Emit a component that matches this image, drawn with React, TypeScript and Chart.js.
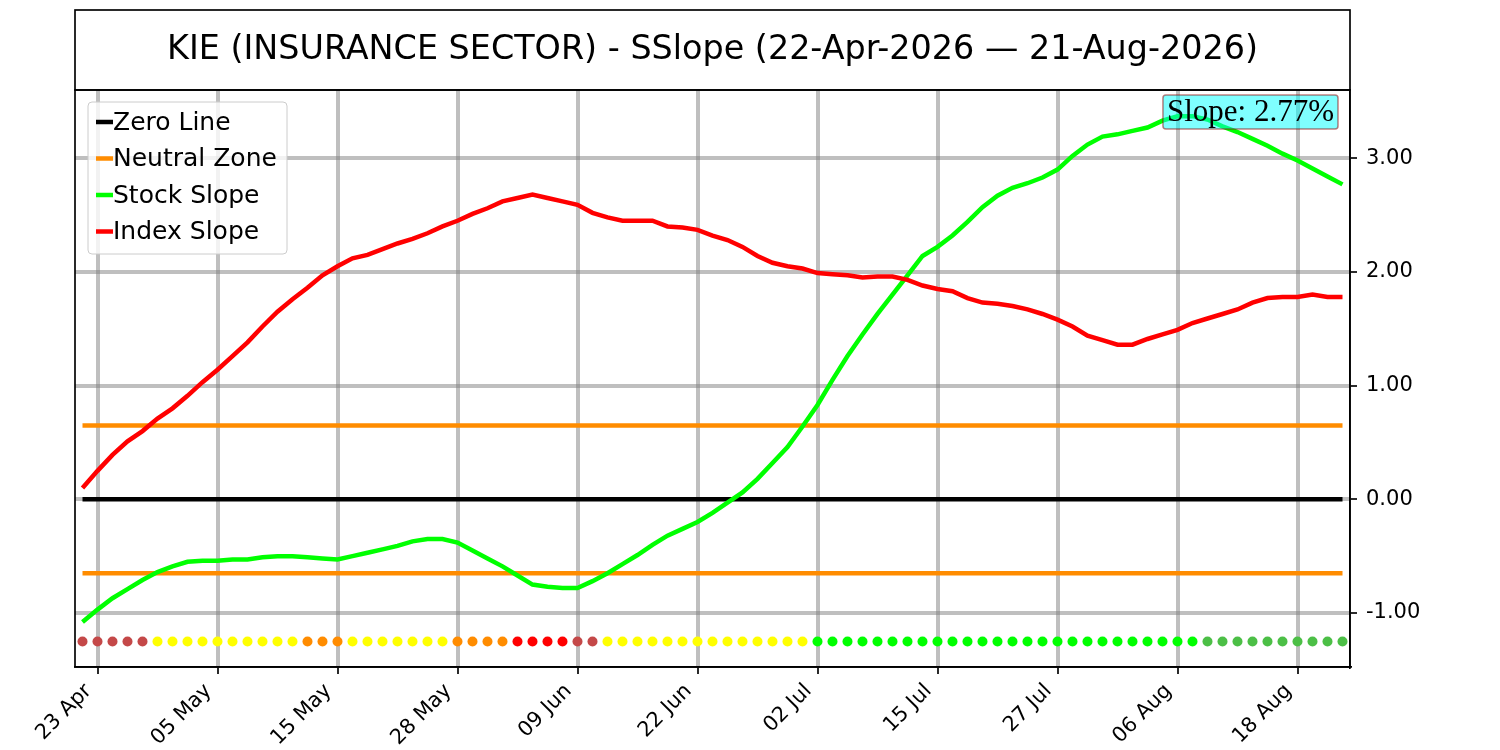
import { Chart, registerables } from 'chart.js'
import { useEffect, useRef } from 'react'

Chart.register(...registerables)

const title = 'KIE (INSURANCE SECTOR) - SSlope (22-Apr-2026 — 21-Aug-2026)'

// торговые дни 22 Apr – 21 Aug 2026
const dates = [
	'22 Apr', '23 Apr', '24 Apr', '27 Apr', '28 Apr', '29 Apr', '30 Apr', '01 May', '04 May', '05 May',
	'06 May', '07 May', '08 May', '11 May', '12 May', '13 May', '14 May', '15 May', '18 May', '19 May',
	'20 May', '21 May', '22 May', '26 May', '27 May', '28 May', '29 May', '01 Jun', '02 Jun', '03 Jun',
	'04 Jun', '05 Jun', '08 Jun', '09 Jun', '10 Jun', '11 Jun', '12 Jun', '15 Jun', '16 Jun', '17 Jun',
	'18 Jun', '22 Jun', '23 Jun', '24 Jun', '25 Jun', '26 Jun', '29 Jun', '30 Jun', '01 Jul', '02 Jul',
	'06 Jul', '07 Jul', '08 Jul', '09 Jul', '10 Jul', '13 Jul', '14 Jul', '15 Jul', '16 Jul', '17 Jul',
	'20 Jul', '21 Jul', '22 Jul', '23 Jul', '24 Jul', '27 Jul', '28 Jul', '29 Jul', '30 Jul', '31 Jul',
	'03 Aug', '04 Aug', '05 Aug', '06 Aug', '07 Aug', '10 Aug', '11 Aug', '12 Aug', '13 Aug', '14 Aug',
	'17 Aug', '18 Aug', '19 Aug', '20 Aug', '21 Aug'
]

const xTickLabels = ['23 Apr', '05 May', '15 May', '28 May', '09 Jun', '22 Jun', '02 Jul', '15 Jul', '27 Jul', '06 Aug', '18 Aug']
const yTickValues = [-1, 0, 1, 2, 3]

const stockSlope = [
	-1.08, -0.97, -0.87, -0.79, -0.71, -0.64, -0.59, -0.55, -0.54, -0.54,
	-0.53, -0.53, -0.51, -0.5, -0.5, -0.51, -0.52, -0.53, -0.5, -0.47,
	-0.44, -0.41, -0.37, -0.35, -0.35, -0.38, -0.45, -0.52, -0.59, -0.67,
	-0.75, -0.77, -0.78, -0.78, -0.72, -0.65, -0.57, -0.49, -0.4, -0.32,
	-0.26, -0.2, -0.12, -0.03, 0.06, 0.18, 0.32, 0.46, 0.64, 0.83,
	1.05, 1.26, 1.45, 1.63, 1.8, 1.97, 2.14, 2.22, 2.32, 2.44,
	2.57, 2.67, 2.74, 2.78, 2.83, 2.9, 3.02, 3.12, 3.19, 3.21,
	3.24, 3.27, 3.33, 3.37, 3.37, 3.34, 3.28, 3.23, 3.17, 3.11,
	3.04, 2.98, 2.91, 2.84, 2.77
]

const indexSlope = [
	0.1, 0.25, 0.39, 0.51, 0.6, 0.71, 0.8, 0.91, 1.03, 1.14,
	1.26, 1.38, 1.52, 1.65, 1.76, 1.86, 1.97, 2.05, 2.12, 2.15,
	2.2, 2.25, 2.29, 2.34, 2.4, 2.45, 2.51, 2.56, 2.62, 2.65,
	2.68, 2.65, 2.62, 2.59, 2.52, 2.48, 2.45, 2.45, 2.45, 2.4,
	2.39, 2.37, 2.32, 2.28, 2.22, 2.14, 2.08, 2.05, 2.03, 1.99,
	1.98, 1.97, 1.95, 1.96, 1.96, 1.93, 1.88, 1.85, 1.83, 1.77,
	1.73, 1.72, 1.7, 1.67, 1.63, 1.58, 1.52, 1.44, 1.4, 1.36,
	1.36, 1.41, 1.45, 1.49, 1.55, 1.59, 1.63, 1.67, 1.73, 1.77,
	1.78, 1.78, 1.8, 1.78, 1.78
]

// сигнал по дням: B — слабый красный, Y — нейтрально, O — оранжевый, R — красный, G — зелёный, D — тёмно-зелёный
const signals = [
	'B', 'B', 'B', 'B', 'B', 'Y', 'Y', 'Y', 'Y', 'Y',
	'Y', 'Y', 'Y', 'Y', 'Y', 'O', 'O', 'O', 'Y', 'Y',
	'Y', 'Y', 'Y', 'Y', 'Y', 'O', 'O', 'O', 'O', 'R',
	'R', 'R', 'R', 'B', 'B', 'Y', 'Y', 'Y', 'Y', 'Y',
	'Y', 'Y', 'Y', 'Y', 'Y', 'Y', 'Y', 'Y', 'Y', 'G',
	'G', 'G', 'G', 'G', 'G', 'G', 'G', 'G', 'G', 'G',
	'G', 'G', 'G', 'G', 'G', 'G', 'G', 'G', 'G', 'G',
	'G', 'G', 'G', 'G', 'G', 'D', 'D', 'D', 'D', 'D',
	'D', 'D', 'D', 'D', 'D'
]
const signalColors: Record<string, string> = {
	B: '#c44848',
	Y: '#ffff00',
	O: '#ff8c00',
	R: '#ff0000',
	G: '#00ff00',
	D: '#4cbf46'
}

const neutralZone = 0.65
const signalRow = -1.25
const legendOrder = ['Zero Line', 'Neutral Zone', 'Stock Slope', 'Index Slope']

const FONT = 'DejaVu Sans'
const GRID = 'rgba(128,128,128,0.5)'

// рамка, заголовок, легенда и подпись наклона
const overlayPlugin = {
	id: 'overlay',
	afterDatasetsDraw(chart: any) {
		const { ctx, chartArea: a } = chart
		ctx.save()

		// легенда
		const lx = a.left + 13
		const ly = a.top + 12
		ctx.beginPath()
		ctx.roundRect(lx, ly, 199, 152, 4)
		ctx.fillStyle = 'rgba(255,255,255,0.8)'
		ctx.fill()
		ctx.strokeStyle = '#cccccc'
		ctx.lineWidth = 1
		ctx.stroke()
		ctx.font = `25px "${FONT}"`
		ctx.textBaseline = 'middle'
		ctx.textAlign = 'left'
		legendOrder.forEach((name, k) => {
			const ds = chart.data.datasets.find((d: any) => d.label === name)
			const y = a.top + 32 + k * 36.5
			ctx.strokeStyle = ds.borderColor
			ctx.lineWidth = 4.5
			ctx.beginPath()
			ctx.moveTo(lx + 8, y)
			ctx.lineTo(lx + 25, y)
			ctx.stroke()
			ctx.fillStyle = '#000'
			ctx.fillText(name, lx + 25, y + 1)
		})

		// подпись наклона
		const text = `Slope: ${stockSlope[stockSlope.length - 1].toFixed(2)}%`
		ctx.font = '31px "Liberation Serif"'
		const w = ctx.measureText(text).width + 8
		const bx = a.right - 12 - w
		const by = a.top + 5
		ctx.beginPath()
		ctx.roundRect(bx, by, w, 34, 3)
		ctx.fillStyle = 'rgba(0,255,255,0.5)'
		ctx.fill()
		ctx.strokeStyle = 'rgba(139,0,0,0.5)'
		ctx.lineWidth = 1.5
		ctx.stroke()
		ctx.fillStyle = '#000'
		ctx.textAlign = 'left'
		ctx.fillText(text, bx + 4, by + 18)
		ctx.restore()
	},
	afterDraw(chart: any) {
		const { ctx, chartArea: a } = chart
		ctx.save()
		ctx.strokeStyle = '#000'
		ctx.lineWidth = 1.67
		ctx.strokeRect(a.left, a.top, a.right - a.left, a.bottom - a.top)
		ctx.strokeRect(a.left, 10, a.right - a.left, a.top - 10)
		ctx.fillStyle = '#000'
		ctx.font = `33.4px "${FONT}"`
		ctx.textAlign = 'center'
		ctx.textBaseline = 'middle'
		ctx.fillText(title, (a.left + a.right) / 2, (10 + a.top) / 2)
		ctx.restore()
	}
}

export default function App() {
	const canvasRef = useRef<HTMLCanvasElement | null>(null)

	useEffect(() => {
		if (!canvasRef.current) return
		const first = dates[0]
		const last = dates[dates.length - 1]
		const flat = (y: number) => [
			{ x: first, y },
			{ x: last, y }
		]
		const lineStyle = { pointRadius: 0, borderWidth: 4.5, tension: 0, fill: false }

		const chart = new Chart(canvasRef.current, {
			type: 'line',
			data: {
				labels: dates,
				datasets: [
					{ label: 'Index Slope', data: indexSlope, borderColor: '#ff0000', ...lineStyle },
					{ label: 'Stock Slope', data: stockSlope, borderColor: '#00ff00', ...lineStyle },
					{ label: 'Neutral Zone', data: flat(neutralZone) as any, borderColor: '#ff8c00', ...lineStyle },
					{ label: 'Neutral Zone Low', data: flat(-neutralZone) as any, borderColor: '#ff8c00', ...lineStyle },
					{ label: 'Zero Line', data: flat(0) as any, borderColor: '#000000', ...lineStyle },
					{
						label: 'Signal',
						data: signals.map(() => signalRow),
						showLine: false,
						pointRadius: 5,
						pointBorderWidth: 0,
						pointBackgroundColor: signals.map(s => signalColors[s]),
						borderColor: 'transparent'
					}
				]
			},
			options: {
				animation: false,
				responsive: false,
				devicePixelRatio: 1,
				layout: { padding: { left: 75, top: 90, right: 0, bottom: 0 } },
				plugins: {
					legend: { display: false },
					title: { display: false },
					tooltip: { enabled: false }
				},
				scales: {
					x: {
						type: 'category',
						offset: true,
						afterBuildTicks: (s: any) => {
							s.ticks = dates
								.map((d, i) => ({ value: i, d }))
								.filter(t => xTickLabels.includes(t.d))
								.map(t => ({ value: t.value }))
						},
						afterFit: (s: any) => {
							s.height = 83
						},
						grid: {
							color: GRID,
							lineWidth: 4,
							offset: false,
							tickColor: '#000',
							tickWidth: 1.67,
							tickLength: 7
						},
						border: { display: true, color: '#000', width: 1.67 },
						ticks: {
							autoSkip: false,
							minRotation: 45,
							maxRotation: 45,
							padding: 5,
							labelOffset: -9,
							color: '#000',
							font: { family: FONT, size: 20.8 }
						}
					},
					y: {
						position: 'right',
						min: -1.475,
						max: 3.6,
						afterBuildTicks: (s: any) => {
							s.ticks = yTickValues.map(v => ({ value: v }))
						},
						afterFit: (s: any) => {
							s.width = 150
						},
						grid: {
							color: GRID,
							lineWidth: 4,
							tickColor: '#000',
							tickWidth: 1.67,
							tickLength: 7
						},
						border: { display: true, color: '#000', width: 1.67 },
						ticks: {
							padding: 9,
							color: '#000',
							font: { family: FONT, size: 21 },
							callback: v => Number(v).toFixed(2)
						}
					}
				}
			},
			plugins: [overlayPlugin]
		})

		return () => {
			chart.destroy()
		}
	}, [])

	return (
		<div style={{ position: 'fixed', left: 0, top: 0, width: 1500, height: 750, background: '#fff' }}>
			<canvas
				ref={canvasRef}
				width={1500}
				height={750}
				style={{ width: 1500, height: 750 }}
			/>
		</div>
	)
}
